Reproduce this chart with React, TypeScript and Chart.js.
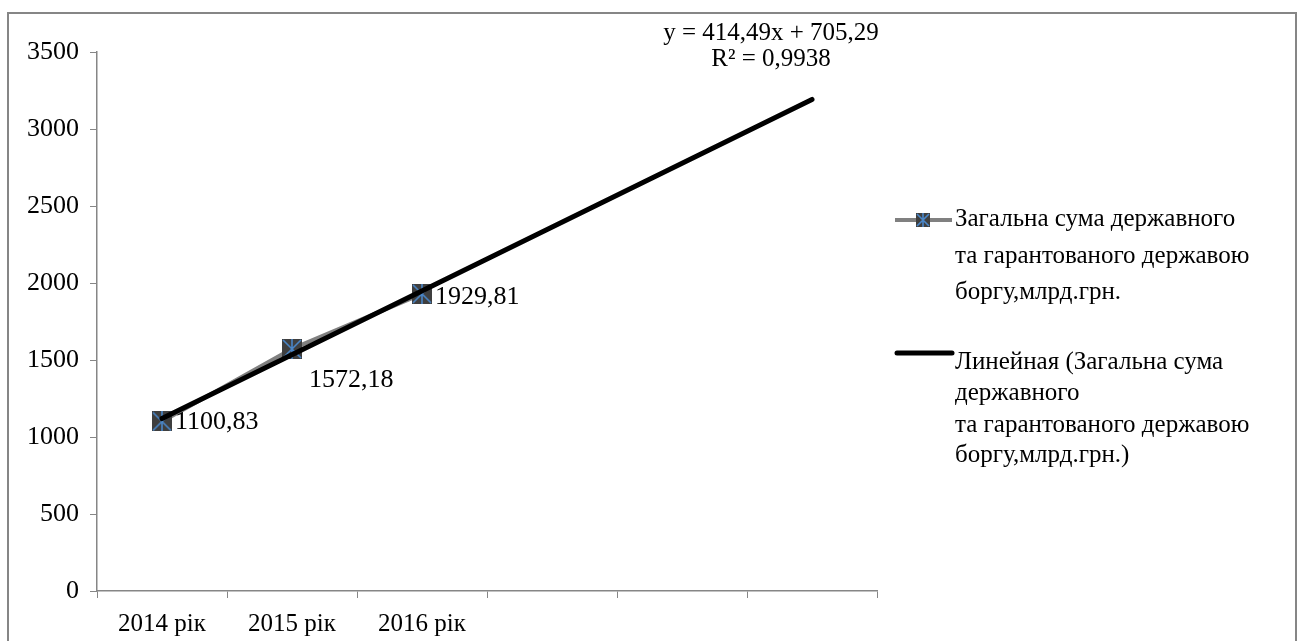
import React, { useEffect, useRef } from "react";
import { Chart, registerables } from "chart.js";

Chart.register(...registerables);

// Categories on the x axis (the last three slots hold the trend forecast)
const categories: string[] = ["2014 рік", "2015 рік", "2016 рік", "", "", ""];
// Total state and state-guaranteed debt, bn UAH
const debtValues: (number | null)[] = [1100.83, 1572.18, 1929.81, null, null, null];
const debtLabels: string[] = ["1100,83", "1572,18", "1929,81"];
// Linear trend y = a·x + b
const trendSlope = 414.49;
const trendIntercept = 705.29;
const trendR2Text = "R² = 0,9938";
const trendEqText = "y = 414,49x + 705,29";
const yTicks = { min: 0, max: 3500, step: 500 };

const seriesName: string[] = [
  "Загальна сума державного",
  "та гарантованого державою",
  "боргу,млрд.грн.",
];
const trendName: string[] = [
  "Линейная (Загальна сума",
  "державного",
  "та гарантованого державою",
  "боргу,млрд.грн.)",
];

const FONT = '"Liberation Serif", "Times New Roman", serif';
const FS = 25;
const FS_NUM = 26;
const AXIS = "#868686";

function trendAt(x: number): number {
  return trendSlope * x + trendIntercept;
}

// Trend line: only its ends are set, the gap between them is spanned
const trendValues: (number | null)[] = categories.map((_, i) =>
  i === 0 || i === categories.length - 1 ? trendAt(i + 1) : null
);

function makeMarker(size: number): HTMLCanvasElement {
  const c = document.createElement("canvas");
  c.width = size;
  c.height = size;
  const g = c.getContext("2d")!;
  g.fillStyle = "#3f3f3f";
  g.fillRect(0, 0, size, size);
  g.strokeStyle = "#4a86c8";
  g.lineWidth = 1.6;
  g.beginPath();
  g.moveTo(1, 1);
  g.lineTo(size - 1, size - 1);
  g.moveTo(size - 1, 1);
  g.lineTo(1, size - 1);
  g.moveTo(size / 2, 0);
  g.lineTo(size / 2, size);
  g.stroke();
  return c;
}

export default function App() {
  const ref = useRef<HTMLCanvasElement | null>(null);

  useEffect(() => {
    const canvas = ref.current!;
    const marker = makeMarker(20);
    const legendMarker = makeMarker(14);

    const decor = {
      id: "decor",
      beforeDraw(chart: any) {
        const ctx = chart.ctx;
        ctx.save();
        ctx.strokeStyle = AXIS;
        ctx.lineWidth = 2;
        ctx.strokeRect(8, 13, 1288, 700);
        ctx.restore();
      },
      afterDatasetsDraw(chart: any) {
        const ctx = chart.ctx;
        const meta = chart.getDatasetMeta(1);
        const offsets = [
          [13, 1],
          [17, 31],
          [13, 3],
        ];
        ctx.save();
        ctx.font = `${FS_NUM}px ${FONT}`;
        ctx.fillStyle = "#000";
        ctx.textAlign = "left";
        ctx.textBaseline = "middle";
        debtLabels.forEach((t, i) => {
          const p = meta.data[i];
          if (!p) return;
          ctx.fillText(t, p.x + offsets[i][0], p.y + offsets[i][1]);
        });

        // trend equation above the end of the line
        ctx.font = `${FS}px ${FONT}`;
        ctx.textAlign = "center";
        ctx.fillText(trendEqText, 771, 33);
        ctx.fillText(trendR2Text, 771, 59);

        // legend
        ctx.textAlign = "left";
        ctx.strokeStyle = "#808080";
        ctx.lineWidth = 4;
        ctx.beginPath();
        ctx.moveTo(895, 220);
        ctx.lineTo(952, 220);
        ctx.stroke();
        ctx.drawImage(legendMarker, 916, 213);
        const ys1 = [219, 256, 292];
        seriesName.forEach((t, i) => ctx.fillText(t, 955, ys1[i]));

        ctx.strokeStyle = "#000";
        ctx.lineWidth = 5;
        ctx.lineCap = "round";
        ctx.beginPath();
        ctx.moveTo(897, 353);
        ctx.lineTo(952, 353);
        ctx.stroke();
        const ys2 = [362, 393, 425, 455];
        trendName.forEach((t, i) => ctx.fillText(t, 955, ys2[i]));
        ctx.restore();
      },
    };

    const chart = new Chart(canvas, {
      type: "line",
      data: {
        labels: categories,
        datasets: [
          {
            label: trendName.join(" "),
            data: trendValues,
            borderColor: "#000",
            borderWidth: 5,
            borderCapStyle: "round",
            pointRadius: 0,
            spanGaps: true,
            order: 0,
          },
          {
            label: seriesName.join(" "),
            data: debtValues,
            borderColor: "#808080",
            borderWidth: 4,
            pointStyle: marker,
            pointRadius: 10,
            spanGaps: false,
            order: 1,
          },
        ],
      },
      options: {
        responsive: false,
        animation: false,
        devicePixelRatio: 1,
        layout: { padding: { left: 0, right: 422, top: 52, bottom: 0 } },
        plugins: {
          legend: { display: false },
          tooltip: { enabled: false },
          title: { display: false },
        },
        scales: {
          x: {
            type: "category",
            offset: true,
            afterFit: (s: any) => {
              s.height = 50;
            },
            grid: {
              offset: true,
              drawOnChartArea: false,
              drawTicks: true,
              tickLength: 7,
              color: AXIS,
            },
            border: { color: AXIS, width: 1.5 },
            ticks: {
              autoSkip: false,
              maxRotation: 0,
              minRotation: 0,
              padding: 11,
              color: "#000",
              font: { family: FONT, size: FS },
            },
          },
          y: {
            min: yTicks.min,
            max: yTicks.max,
            afterFit: (s: any) => {
              s.width = 97;
            },
            grid: {
              drawOnChartArea: false,
              drawTicks: true,
              tickLength: 7,
              color: AXIS,
            },
            border: { color: AXIS, width: 1.5 },
            ticks: {
              stepSize: yTicks.step,
              padding: 11,
              color: "#000",
              font: { family: FONT, size: FS_NUM },
              callback: (v: any) => String(v),
            },
          },
        },
      },
      plugins: [decor],
    } as any);

    return () => chart.destroy();
  }, []);

  return (
    <div style={{ position: "fixed", left: 0, top: 0, width: 1299, height: 641, background: "#fff" }}>
      <canvas ref={ref} width={1299} height={641} style={{ display: "block" }} />
    </div>
  );
}
